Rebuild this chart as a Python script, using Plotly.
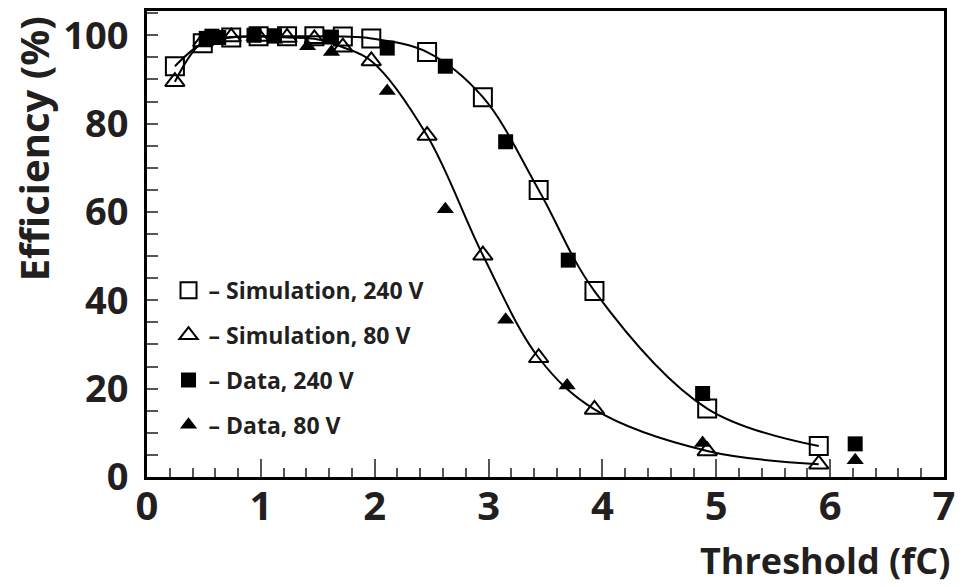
import plotly.graph_objects as go

# ---- data ----
sim_x = [0.245, 0.49, 0.74, 0.98, 1.23, 1.47, 1.72, 1.97, 2.46, 2.95, 3.44, 3.93, 4.92, 5.90]
sim240_y = [93.0, 98.2, 99.5, 99.8, 99.8, 99.8, 99.7, 99.3, 96.2, 86.0, 65.0, 42.1, 15.5, 7.0]
sim80_y = [89.5, 98.5, 99.6, 99.7, 99.5, 99.2, 97.3, 94.2, 77.3, 50.2, 27.0, 15.3, 5.9, 2.9]

data240_x = [0.52, 0.57, 0.63, 0.94, 1.12, 1.62, 2.11, 2.62, 3.15, 3.70, 4.88, 6.22]
data240_y = [99.3, 99.8, 99.5, 100.0, 99.9, 99.6, 97.1, 93.0, 75.9, 49.1, 18.9, 7.5]

data80_x = [0.55, 0.94, 1.12, 1.41, 1.62, 2.11, 2.62, 3.15, 3.69, 4.88, 6.22]
data80_y = [99.0, 99.6, 99.0, 97.5, 96.2, 87.4, 60.6, 35.6, 20.7, 7.7, 3.8]

legend_names = ["\u2013 Simulation, 240 V", "\u2013 Simulation, 80 V",
                "\u2013 Data, 240 V", "\u2013 Data, 80 V"]

x_title = "Threshold (fC)"
y_title = "Efficiency (%)"

FONT = "Open Sans, Lato, DejaVu Sans, sans-serif"
TXT = "#231f20"

fig = go.Figure()

# fitted curves through the simulation points
for ys in (sim240_y, sim80_y):
    fig.add_trace(go.Scatter(x=sim_x, y=ys, mode="lines",
                             line=dict(color="black", width=2, shape="spline", smoothing=1.0),
                             showlegend=False, hoverinfo="skip"))

fig.add_trace(go.Scatter(x=sim_x, y=sim240_y, mode="markers", name=legend_names[0],
                         legendgroup="a",
                         marker=dict(symbol="square-open", size=18, color="black",
                                     line=dict(width=2, color="black"))))
fig.add_trace(go.Scatter(x=sim_x, y=sim80_y, mode="markers", name=legend_names[1],
                         legendgroup="b",
                         marker=dict(symbol="triangle-up-open", size=17, color="black",
                                     line=dict(width=2, color="black"))))
fig.add_trace(go.Scatter(x=data240_x, y=data240_y, mode="markers", name=legend_names[2],
                         legendgroup="c",
                         marker=dict(symbol="square", size=15, color="black",
                                     line=dict(width=0))))
fig.add_trace(go.Scatter(x=data80_x, y=data80_y, mode="markers", name=legend_names[3],
                         legendgroup="d",
                         marker=dict(symbol="triangle-up", size=15, color="black",
                                     line=dict(width=0))))

axis_common = dict(showline=True, linewidth=3, linecolor="black", mirror=True,
                   showgrid=False, zeroline=False, ticks="inside",
                   tickcolor="#555555", tickwidth=1.5)

fig.update_xaxes(range=[0, 7], tick0=0, dtick=1, ticklen=18,
                 tickfont=dict(family=FONT, size=40, color=TXT, weight="bold"),
                 ticklabelstandoff=-8,
                 minor=dict(tick0=0, dtick=0.2, ticks="inside", ticklen=9,
                            tickwidth=1.5, tickcolor="#555555", showgrid=False),
                 **axis_common)
fig.update_yaxes(range=[0, 105.5], tick0=0, dtick=20, ticklen=11,
                 tickfont=dict(family=FONT, size=38, color=TXT, weight="bold"),
                 ticklabelstandoff=8,
                 minor=dict(tick0=0, dtick=5, ticks="inside", ticklen=11,
                            tickwidth=1.5, tickcolor="#555555", showgrid=False),
                 **axis_common)

fig.add_annotation(text=x_title, xref="paper", yref="paper", x=1.0, y=-0.18,
                   xanchor="right", yanchor="middle", showarrow=False, xshift=8,
                   font=dict(family=FONT, size=36, color=TXT, weight="bold"))
fig.add_annotation(text=y_title, xref="paper", yref="paper", x=-0.142, y=0.705,
                   xanchor="center", yanchor="middle", showarrow=False, textangle=-90,
                   font=dict(family=FONT, size=40, color=TXT, weight="bold"))

fig.update_layout(
    width=963, height=587,
    margin=dict(l=147, r=15, t=8, b=110),
    paper_bgcolor="white", plot_bgcolor="white",
    showlegend=True,
    legend=dict(x=0.027, y=0.447, xanchor="left", yanchor="top",
                bgcolor="rgba(0,0,0,0)", borderwidth=0,
                tracegroupgap=12, itemsizing="trace",
                font=dict(family=FONT, size=23, color=TXT, weight="bold")),
)

fig.write_html("out.html")
